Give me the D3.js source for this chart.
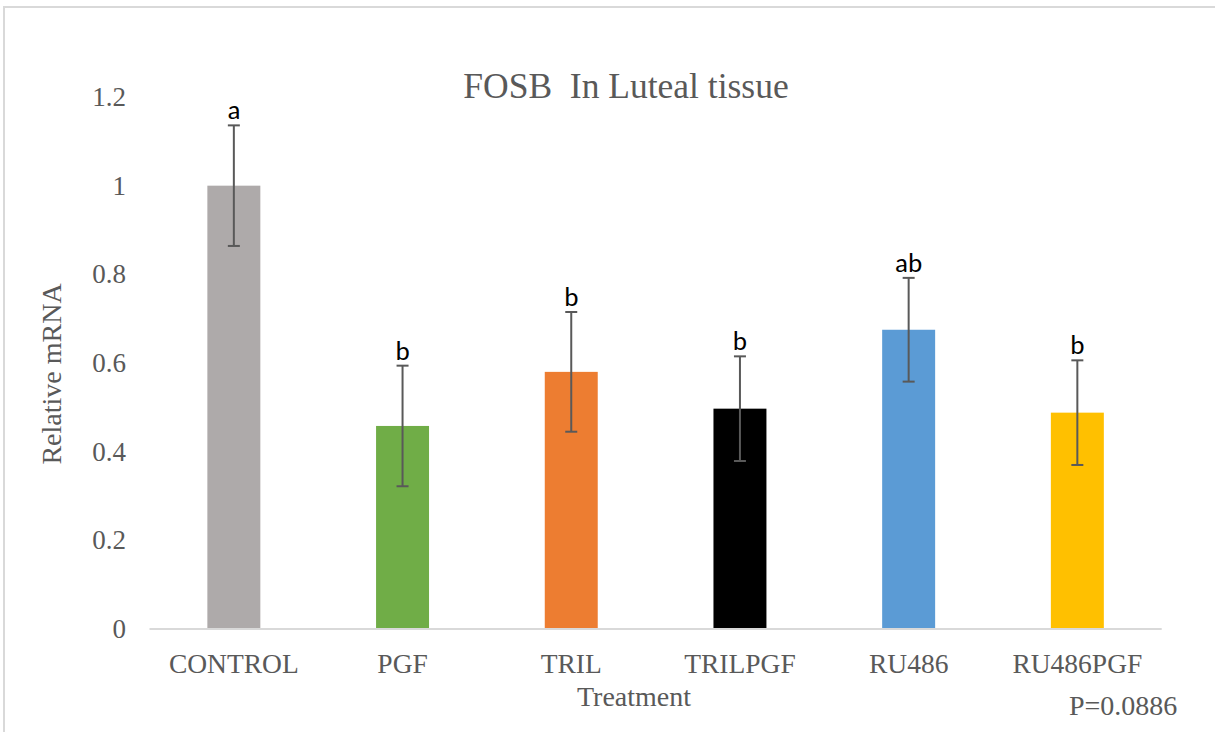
<!DOCTYPE html>
<html>
<head>
<meta charset="utf-8">
<script src="https://cdn.jsdelivr.net/npm/d3@7"></script>
<style>
  html, body { margin: 0; padding: 0; background: #fff; }
  svg { display: block; }
</style>
</head>
<body>
<svg id="chart" width="1215" height="732"></svg>
<script>
// ---- data ----
const categories = ["CONTROL", "PGF", "TRIL", "TRILPGF", "RU486", "RU486PGF"];
const values     = [1.0, 0.458, 0.58, 0.497, 0.675, 0.488];
const errors     = [0.136, 0.136, 0.135, 0.118, 0.117, 0.118];
const letters    = ["a", "b", "b", "b", "ab", "b"];
const colors     = ["#AEAAAA", "#70AD47", "#ED7D31", "#000000", "#5B9BD5", "#FFC000"];
const yTicks     = [0, 0.2, 0.4, 0.6, 0.8, 1, 1.2];
const title      = "FOSB  In Luteal tissue";
const xTitle     = "Treatment";
const yTitle     = "Relative mRNA";
const note       = "P=0.0886";

const svg = d3.select("#chart");
const serif = "'Liberation Serif', 'Times New Roman', serif";
const sans = "Carlito, Calibri, 'Liberation Sans', Arial, sans-serif";
const textGray = "#595959";

// frame
svg.append("rect").attr("x", 4).attr("y", 7).attr("width", 1230).attr("height", 760)
  .attr("fill", "none").attr("stroke", "#d9d9d9").attr("stroke-width", 2);

const x = d3.scaleBand().domain(categories).range([149.5, 1161.7])
  .paddingInner(0.686).paddingOuter(0.343);
const y = d3.scaleLinear().domain([0, 1.2]).range([629, 97]);

// y axis labels (no line)
const yAxis = d3.axisLeft(y).tickValues(yTicks).tickSize(0).tickPadding(0)
  .tickFormat(d => d3.format("")(+d.toFixed(1)));
const gy = svg.append("g").attr("transform", "translate(126,0)").call(yAxis);
gy.select(".domain").remove();
gy.selectAll("text").attr("font-family", serif).attr("font-size", 27).attr("fill", textGray);

// bars
const data = categories.map((c, i) => ({ c, v: values[i], e: errors[i], l: letters[i], col: colors[i] }));
svg.append("g").selectAll("rect").data(data).join("rect")
  .attr("x", d => x(d.c)).attr("width", x.bandwidth())
  .attr("y", d => y(d.v)).attr("height", d => y(0) - y(d.v))
  .attr("fill", d => d.col);

// x axis
const xAxis = d3.axisBottom(x).tickSize(0).tickPadding(0);
const gx = svg.append("g").attr("transform", `translate(0,${y(0)})`).call(xAxis);
gx.select(".domain").attr("stroke", "#d9d9d9").attr("stroke-width", 2)
  .attr("d", `M${x.range()[0]},0H${x.range()[1]}`);
gx.selectAll("text").attr("font-family", serif).attr("font-size", 27.5).attr("fill", textGray)
  .attr("dy", null).attr("y", 44);

// error bars
const eg = svg.append("g").attr("stroke", "#595959").attr("stroke-width", 2);
const cx = d => x(d.c) + x.bandwidth() / 2;
eg.selectAll("line.v").data(data).join("line").attr("class", "v")
  .attr("x1", cx).attr("x2", cx).attr("y1", d => y(d.v + d.e)).attr("y2", d => y(d.v - d.e));
eg.selectAll("line.t").data(data).join("line").attr("class", "t")
  .attr("x1", d => cx(d) - 6).attr("x2", d => cx(d) + 6)
  .attr("y1", d => y(d.v + d.e)).attr("y2", d => y(d.v + d.e));
eg.selectAll("line.b").data(data).join("line").attr("class", "b")
  .attr("x1", d => cx(d) - 6).attr("x2", d => cx(d) + 6)
  .attr("y1", d => y(d.v - d.e)).attr("y2", d => y(d.v - d.e));

// significance letters
svg.append("g").selectAll("text").data(data).join("text")
  .attr("x", cx).attr("y", d => y(d.v + d.e) - 6)
  .attr("text-anchor", "middle").attr("font-family", sans).attr("font-size", 27)
  .attr("fill", "#000").text(d => d.l);

// title
svg.append("text").attr("x", 626).attr("y", 98).attr("text-anchor", "middle")
  .attr("font-family", serif).attr("font-size", 35.5).attr("fill", textGray)
  .attr("xml:space", "preserve").style("white-space", "pre").text(title);

// axis titles
svg.append("text").attr("x", 634).attr("y", 706).attr("text-anchor", "middle")
  .attr("font-family", serif).attr("font-size", 28).attr("fill", textGray).text(xTitle);
svg.append("text").attr("transform", "translate(61,374) rotate(-90)").attr("text-anchor", "middle")
  .attr("font-family", serif).attr("font-size", 28).attr("fill", textGray).text(yTitle);

// p-value note
svg.append("text").attr("x", 1069).attr("y", 715)
  .attr("font-family", serif).attr("font-size", 28).attr("fill", textGray).text(note);
</script>
</body>
</html>
